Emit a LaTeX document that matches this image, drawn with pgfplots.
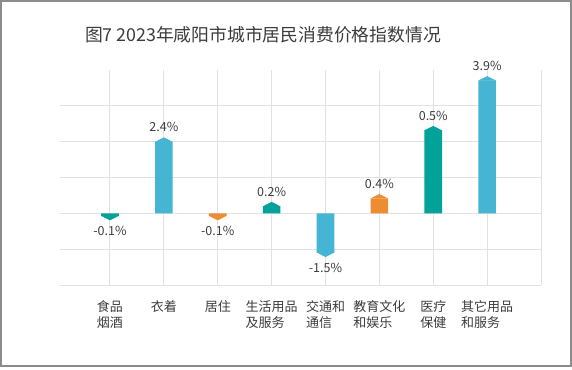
\documentclass[border=0pt]{standalone}
\usepackage{fontspec}
\setmainfont{Noto Sans CJK SC}
\usepackage{pgfplots}
\pgfplotsset{compat=1.18}
\definecolor{cteal}{HTML}{00A29A}
\definecolor{cblue}{HTML}{46B4D3}
\definecolor{corange}{HTML}{ED8C32}
\definecolor{ctext}{HTML}{3C3C3C}
\definecolor{cgrid}{HTML}{E2E2E2}
\definecolor{cframe}{HTML}{8C8C8C}
\pgfdeclareplotmark{uptri}{%
  \pgfpathmoveto{\pgfpoint{-8.8pt}{-0.2pt}}%
  \pgfpathlineto{\pgfpoint{0pt}{4.3pt}}%
  \pgfpathlineto{\pgfpoint{8.8pt}{-0.2pt}}%
  \pgfpathclose\pgfusepathqfill}
\pgfdeclareplotmark{downtri}{%
  \pgfpathmoveto{\pgfpoint{-8.8pt}{0.2pt}}%
  \pgfpathlineto{\pgfpoint{0pt}{-4.3pt}}%
  \pgfpathlineto{\pgfpoint{8.8pt}{0.2pt}}%
  \pgfpathclose\pgfusepathqfill}
\pgfplotsset{
  mybar/.style={ybar, bar width=17.6pt, bar shift=0pt, fill=#1, draw=none},
  uptip/.style={only marks, mark=uptri, color=#1, point meta=explicit symbolic,
    nodes near coords, every node near coord/.append style={text=ctext, anchor=center, yshift=14.5pt, font=\fontsize{12.5}{14}\selectfont}},
  downtip/.style={only marks, mark=downtri, color=#1, point meta=explicit symbolic,
    nodes near coords, every node near coord/.append style={text=ctext, anchor=center, yshift=-14.7pt, font=\fontsize{12.5}{14}\selectfont}},
}
\begin{document}
\begin{tikzpicture}
\useasboundingbox (0,0) rectangle (572pt,369pt);
\draw[cframe, line width=2pt] (1pt,3pt) rectangle (571pt,368pt);
\node[text=ctext, font=\fontsize{17.8}{20}\selectfont] at (263pt,334pt) {图7 2023年咸阳市城市居民消费价格指数情况};
\begin{axis}[at={(60pt,84pt)}, anchor=south west, scale only axis,
  width=481pt, height=215pt,
  xmin=-0.928, xmax=8, ymin=-2, ymax=4,
  axis line style={draw=none},
  xtick={0,...,7},
  xticklabels={{食品\\烟酒},{衣着},{居住},{生活用品\\及服务},{交通和\\通信},{教育文化\\和娱乐},{医疗\\保健},{其它用品\\和服务}},
  extra x ticks={8}, extra x tick labels={},
  extra x tick style={grid=major},
  ytick={-2,...,3}, yticklabels={},
  major tick length=0pt,
  xmajorgrids, ymajorgrids, grid style={cgrid, line width=1pt},
  xticklabel style={align=left, anchor=north, text=ctext, font=\fontsize{13}{15.6}\selectfont, yshift=-12pt},
  clip=false,
]
\addplot[mybar=cteal] coordinates {(0,-0.075) (3,0.2) (6,2.32)};
\addplot[mybar=cblue] coordinates {(1,2.0) (4,-1.10) (7,3.71)};
\addplot[mybar=corange] coordinates {(2,-0.075) (5,0.42)};
\addplot[uptip=cteal] coordinates {(3,0.2) [0.2\%] (6,2.32) [0.5\%]};
\addplot[downtip=cteal] coordinates {(0,-0.075) [-0.1\%]};
\addplot[uptip=cblue] coordinates {(1,2.0) [2.4\%] (7,3.71) [3.9\%]};
\addplot[downtip=cblue] coordinates {(4,-1.10) [-1.5\%]};
\addplot[uptip=corange] coordinates {(5,0.42) [0.4\%]};
\addplot[downtip=corange] coordinates {(2,-0.075) [-0.1\%]};
\end{axis}
\end{tikzpicture}
\end{document}
